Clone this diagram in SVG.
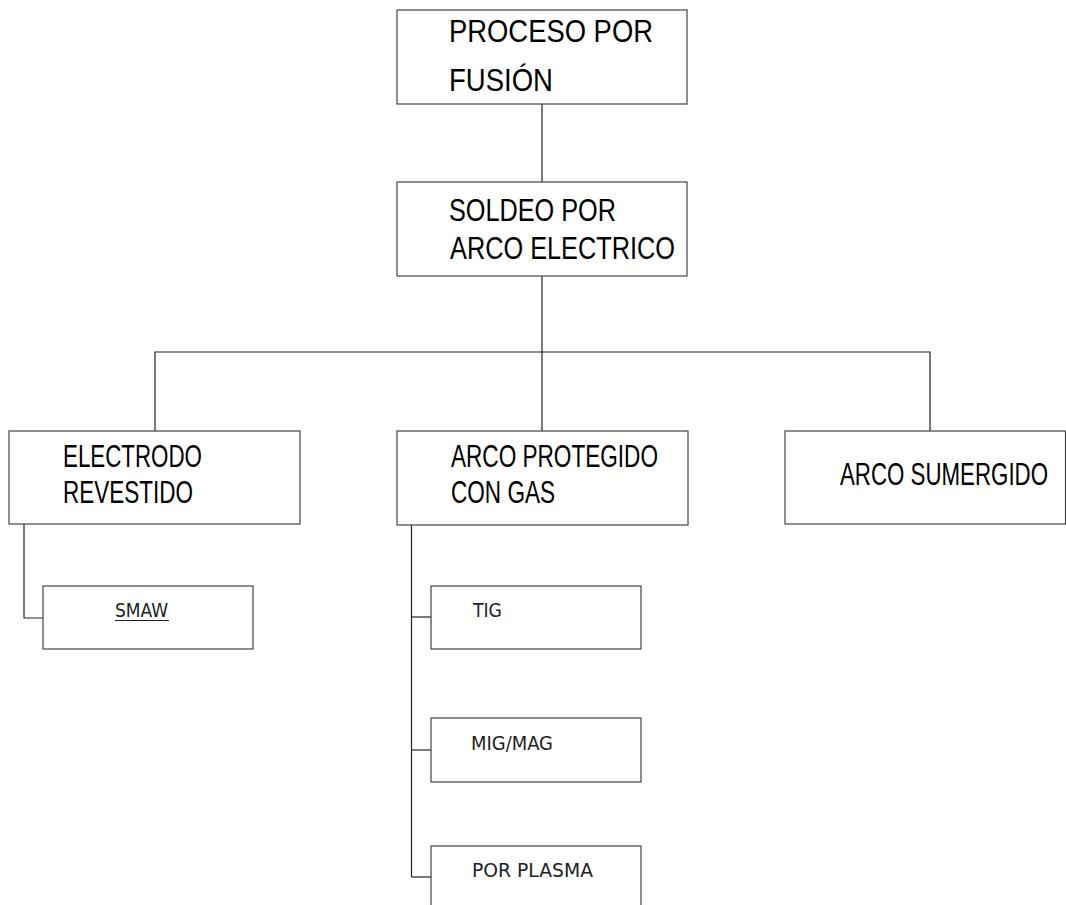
<svg xmlns="http://www.w3.org/2000/svg" width="1066" height="905" viewBox="0 0 1066 905">
<style>
.box{fill:#fff;stroke:#444;stroke-width:1.2}
.con{fill:none;stroke:#222;stroke-width:1.2}
.big{font-family:"Liberation Sans",Arial,sans-serif;font-size:31px;fill:#000}
.small{font-family:"DejaVu Sans Condensed","DejaVu Sans",sans-serif;font-size:19.5px;fill:#222;font-weight:normal}
</style>
<rect width="1066" height="905" fill="#fff"/>
<g id="connectors">
<line class="con" x1="542" y1="104" x2="542" y2="182"/>
<line class="con" x1="542" y1="276" x2="542" y2="431"/>
<polyline class="con" points="155,431 155,352 930,352 930,431"/>
<polyline class="con" points="24,524 24,618 43,618"/>
<line class="con" x1="411.5" y1="525" x2="411.5" y2="877"/>
<line class="con" x1="411.5" y1="617" x2="431" y2="617"/>
<line class="con" x1="411.5" y1="750" x2="431" y2="750"/>
<line class="con" x1="411.5" y1="877" x2="431" y2="877"/>
</g>
<g id="n1">
<rect class="box" x="397" y="10" width="290" height="94"/>
<text class="big" x="449" y="42" textLength="204" lengthAdjust="spacingAndGlyphs">PROCESO POR</text>
<text class="big" x="449" y="91" textLength="104" lengthAdjust="spacingAndGlyphs">FUSIÓN</text>
</g>
<g id="n2">
<rect class="box" x="397" y="182" width="290" height="94"/>
<text class="big" x="449" y="221" textLength="167" lengthAdjust="spacingAndGlyphs">SOLDEO POR</text>
<text class="big" x="450" y="259" textLength="225" lengthAdjust="spacingAndGlyphs">ARCO ELECTRICO</text>
</g>
<g id="n3">
<rect class="box" x="9" y="431" width="291" height="93"/>
<text class="big" x="63" y="467" textLength="139" lengthAdjust="spacingAndGlyphs">ELECTRODO</text>
<text class="big" x="63" y="503" textLength="130" lengthAdjust="spacingAndGlyphs">REVESTIDO</text>
</g>
<g id="n4">
<rect class="box" x="397" y="431" width="291" height="94"/>
<text class="big" x="451" y="467" textLength="207" lengthAdjust="spacingAndGlyphs">ARCO PROTEGIDO</text>
<text class="big" x="451" y="503" textLength="104" lengthAdjust="spacingAndGlyphs">CON GAS</text>
</g>
<g id="n5">
<rect class="box" x="785" y="431" width="280.5" height="93"/>
<text class="big" x="840" y="485" textLength="208" lengthAdjust="spacingAndGlyphs">ARCO SUMERGIDO</text>
</g>
<g id="n6">
<rect class="box" x="43" y="586" width="210" height="63"/>
<text class="small" x="115" y="617" textLength="53" lengthAdjust="spacingAndGlyphs">SMAW</text>
<line x1="115" y1="620.5" x2="169" y2="620.5" stroke="#222" stroke-width="1"/>
</g>
<g id="n7">
<rect class="box" x="431" y="586" width="210" height="63"/>
<text class="small" x="473" y="617" textLength="29" lengthAdjust="spacingAndGlyphs">TIG</text>
</g>
<g id="n8">
<rect class="box" x="431" y="718" width="210" height="64"/>
<text class="small" x="471" y="750" textLength="82" lengthAdjust="spacingAndGlyphs">MIG/MAG</text>
</g>
<g id="n9">
<rect class="box" x="431" y="846" width="210" height="64"/>
<text class="small" x="472" y="877" textLength="121" lengthAdjust="spacingAndGlyphs">POR PLASMA</text>
</g>
</svg>
